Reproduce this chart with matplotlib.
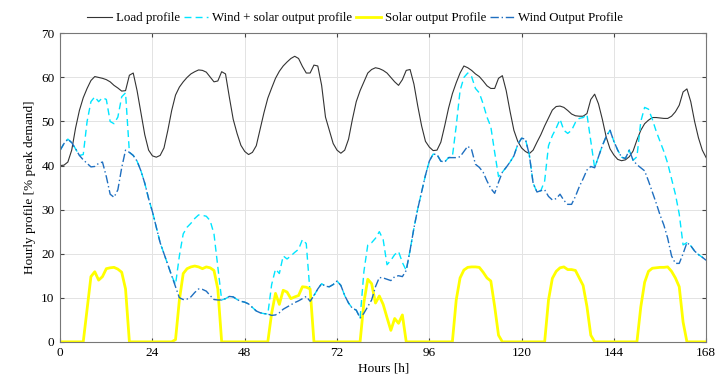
import numpy as np
import matplotlib
matplotlib.use("Agg")
import matplotlib.pyplot as plt

plt.rcParams['font.family'] = ['Liberation Serif', 'DejaVu Serif']

# hourly values, hour 0..168 (% of peak demand)
hours = np.arange(0, 169)

load = [
    40.0, 40.1, 40.8, 43.5, 48.5, 52.5, 55.4, 57.5, 59.3, 60.2,
    60.0, 59.8, 59.5, 59.0, 58.2, 57.6, 56.9, 57.0, 60.5, 61.0,
    57.0, 52.0, 47.0, 43.5, 42.2, 41.9, 42.3, 44.0, 48.0, 52.5,
    56.0, 57.8, 59.0, 60.0, 60.8, 61.3, 61.7, 61.6, 61.2, 60.1,
    59.0, 59.2, 61.3, 60.8, 55.5, 50.5, 47.3, 44.6, 43.2, 42.5,
    43.0, 44.5, 48.2, 52.0, 55.3, 57.6, 59.8, 61.4, 62.6, 63.5,
    64.3, 64.8, 64.3, 62.5, 61.0, 61.0, 62.8, 62.6, 58.2, 51.0,
    48.0, 45.0, 43.5, 42.8, 43.5, 46.0, 50.5, 54.5, 57.0, 59.0,
    61.0, 61.8, 62.2, 62.0, 61.6, 61.0, 60.0, 59.0, 58.2, 59.5,
    61.6, 61.8, 58.5, 53.5, 49.0, 45.5, 44.2, 43.4, 43.5, 45.3,
    49.0, 53.0, 56.3, 58.8, 61.0, 62.6, 62.2, 61.6, 60.8, 60.2,
    59.2, 58.1, 57.5, 57.5, 59.8, 60.4, 57.0, 52.3, 48.0, 45.5,
    44.0, 43.2, 42.7, 43.5, 45.3, 47.0, 49.0, 50.8, 52.6, 53.4,
    53.5, 53.2, 52.5, 51.7, 51.3, 51.2, 51.2, 51.8, 55.0, 56.2,
    54.0, 50.5, 46.5, 43.8, 42.4, 41.4, 41.1, 41.3, 42.0, 43.3,
    45.8, 48.0, 49.5, 50.3, 50.9, 50.9, 50.8, 50.7, 50.7, 51.2,
    52.2, 53.7, 56.7, 57.4, 54.5, 50.0, 46.3, 43.5, 41.8,
]

wind = [
    43.5, 45.0, 46.0, 45.2, 43.8, 42.3, 41.3, 40.5, 39.7, 39.8,
    40.5, 40.8, 37.5, 33.5, 32.8, 34.5, 39.5, 43.5, 43.0, 42.3,
    41.0, 38.8, 36.0, 32.5, 29.5, 26.0, 22.5, 20.0, 17.5, 15.0,
    12.5, 10.0, 9.6, 9.7, 10.2, 11.2, 12.0, 11.9, 11.5, 10.5,
    9.6, 9.5, 9.5, 9.8, 10.3, 10.2, 9.6, 9.2, 9.0, 8.6,
    7.8, 7.0, 6.6, 6.4, 6.3, 6.0, 6.1, 6.6, 7.4, 7.9,
    8.4, 8.9, 9.3, 9.8, 10.3, 9.2, 10.5, 12.0, 13.2, 12.6,
    12.5, 13.0, 13.8, 12.8, 10.5, 8.8, 7.6, 7.2, 5.4, 6.5,
    8.0, 9.5, 12.5, 14.6, 14.5, 14.2, 13.9, 14.8, 15.0, 14.8,
    16.2, 20.8, 25.8, 30.2, 34.0, 37.8, 41.0, 42.6, 42.5, 41.0,
    40.8, 41.8, 41.8, 41.8, 42.0, 43.2, 44.4, 43.6, 40.3, 39.6,
    38.5, 36.5, 34.8, 33.7, 36.2, 38.5, 39.6, 40.8, 42.2, 44.8,
    46.2, 46.0, 42.5, 36.0, 34.0, 34.3, 34.5, 33.0, 32.2, 32.5,
    33.5, 32.1, 31.2, 31.2, 33.0, 35.2, 37.0, 39.0, 39.8, 39.5,
    42.0, 44.5, 46.6, 48.0, 45.5, 43.5, 41.9, 41.6, 43.5, 41.2,
    40.2, 39.5, 38.8, 36.5, 34.0, 31.5, 28.8, 26.5, 23.5, 19.5,
    17.8, 17.8, 20.0, 22.5, 21.8, 20.6, 19.8, 19.2, 18.5,
]

solar = [
    0, 0, 0, 0, 0, 0, 0, 7.5, 14.8, 15.9,
    14.0, 14.8, 16.6, 16.8, 16.9, 16.5, 15.8, 12.0, 0, 0,
    0, 0, 0, 0, 0, 0, 0, 0, 0, 0,
    0.5, 9.5, 15.5, 16.6, 17.0, 17.2, 17.0, 16.6, 17.0, 16.8,
    16.2, 12.0, 0, 0, 0, 0, 0, 0, 0, 0,
    0, 0, 0, 0, 0, 6.5, 11.0, 8.5, 11.7, 11.3,
    9.8, 10.2, 10.5, 12.5, 12.4, 12.0, 0, 0, 0, 0,
    0, 0, 0, 0, 0, 0, 0, 0, 0, 9.0,
    14.2, 13.2, 8.8, 10.4, 8.5, 5.5, 2.6, 5.3, 4.2, 6.1,
    0, 0, 0, 0, 0, 0, 0, 0, 0, 0,
    0, 0, 0, 9.5, 14.5, 16.3, 16.9, 17.0, 17.0, 16.9,
    15.8, 14.5, 13.8, 8.0, 1.5, 0, 0, 0, 0, 0,
    0, 0, 0, 0, 0, 0, 0, 9.5, 14.4, 16.0,
    16.8, 17.0, 16.4, 16.4, 16.2, 14.5, 12.8, 8.0, 1.5, 0,
    0, 0, 0, 0, 0, 0, 0, 0, 0, 0,
    0, 7.9, 13.5, 16.0, 16.7, 16.8, 16.9, 16.9, 17.0, 16.0,
    14.5, 12.5, 4.5, 0, 0, 0, 0, 0, 0,
]

wind_solar = [
    43.5, 45.0, 46.0, 45.2, 43.8, 42.3, 42.5, 50.0, 54.5, 55.6,
    54.5, 55.4, 55.0, 50.0, 49.5, 51.0, 55.6, 56.5, 43.0, 42.3,
    41.0, 38.8, 36.0, 32.5, 29.5, 26.0, 22.5, 20.0, 17.5, 15.0,
    13.0, 19.5, 24.5, 26.0, 26.9, 28.0, 28.8, 28.7, 28.5, 27.5,
    24.5, 17.0, 9.5, 9.8, 10.3, 10.2, 9.6, 9.2, 9.0, 8.6,
    7.8, 7.0, 6.6, 6.4, 6.3, 13.0, 16.5, 15.5, 19.5, 18.8,
    19.5, 20.3, 21.0, 23.2, 22.3, 11.0, 10.5, 12.0, 13.2, 12.6,
    12.5, 13.0, 13.8, 12.8, 10.5, 8.8, 7.6, 7.2, 5.4, 16.0,
    22.0, 22.5, 23.5, 25.0, 23.2, 17.5, 18.5, 19.8, 20.5, 18.0,
    16.2, 20.8, 25.8, 30.2, 34.0, 37.8, 41.0, 42.6, 42.5, 41.0,
    40.8, 41.8, 42.0, 49.0, 57.0, 60.0, 61.0, 60.2, 57.5, 56.5,
    54.0, 51.0, 48.8, 43.0, 37.5, 38.5, 39.6, 40.8, 42.2, 44.8,
    46.2, 46.0, 42.5, 36.0, 34.0, 34.3, 36.5, 44.5, 46.8, 48.5,
    50.5, 48.0, 47.3, 48.0, 49.8, 50.7, 50.9, 51.6, 45.5, 39.5,
    42.0, 44.5, 46.6, 48.0, 45.5, 43.5, 41.9, 41.6, 43.5, 41.2,
    42.0, 50.0, 53.2, 52.8, 50.5, 47.8, 45.5, 43.2, 40.5, 37.0,
    33.5, 29.0, 22.0, 22.5, 21.8, 20.6, 19.8, 19.2, 18.5,
]

fig = plt.figure(figsize=(7.25, 3.88), dpi=100)
ax = fig.add_axes([0.083, 0.119, 0.891, 0.795])

ax.plot(hours, load, color='#333333', lw=0.8, label='Load profile')
ax.plot(hours, wind_solar, color='#00E5FF', lw=1.0, ls=(0, (5, 3)),
        label='Wind + solar output profile')
ax.plot(hours, solar, color='#FFFF00', lw=2.0, label='Solar output Profile')
ax.plot(hours, wind, color='#1f6fc0', lw=1.0, ls=(0, (6, 2, 1, 2)),
        label='Wind Output Profile')

ax.set_xlim(0, 168)
ax.set_ylim(0, 70)
ax.set_xticks(np.arange(0, 169, 24))
ax.set_yticks(np.arange(0, 71, 10))
ax.grid(True, color='#e3e3e3', lw=0.7)
ax.set_axisbelow(True)
ax.tick_params(direction='in', top=True, right=True, labelsize=9.5,
               color='#444444', length=3, pad=4)
for sp in ax.spines.values():
    sp.set_color('#777777')
    sp.set_linewidth(0.8)

ax.set_xlabel('Hours [h]', fontsize=9.5, labelpad=2)
ax.set_ylabel('Hourly profile [% peak demand]', fontsize=9.5, labelpad=4)

fig.legend(loc='center', bbox_to_anchor=(0.49, 0.953), ncol=4, frameon=False,
           fontsize=9.3, handlelength=1.9, handletextpad=0.3, columnspacing=0.3,
           borderaxespad=0.0)

plt.savefig('out.png', dpi=100)
